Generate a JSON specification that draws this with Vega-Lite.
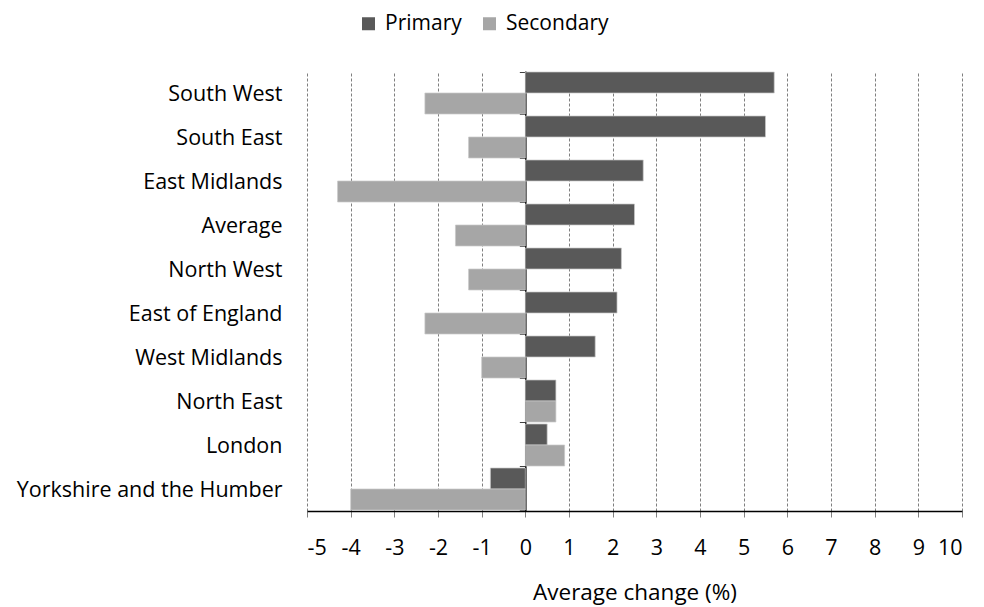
{
  "$schema": "https://vega.github.io/schema/vega-lite/v6.json",
  "width": 655,
  "height": 440,
  "autosize": {"type": "none"},
  "padding": {"left": 307, "top": 71, "right": 22, "bottom": 96},
  "background": "white",
  "config": {
    "view": {"stroke": null},
    "font": "Open Sans",
    "axis": {"labelFont": "Open Sans", "titleFont": "Open Sans", "labelColor": "#000000", "titleColor": "#000000"},
    "legend": {"labelFont": "Open Sans"}
  },
  "data": {
    "values": [
      {"region": "South West", "series": "Primary", "value": 5.7},
      {"region": "South West", "series": "Secondary", "value": -2.3},
      {"region": "South East", "series": "Primary", "value": 5.5},
      {"region": "South East", "series": "Secondary", "value": -1.3},
      {"region": "East Midlands", "series": "Primary", "value": 2.7},
      {"region": "East Midlands", "series": "Secondary", "value": -4.3},
      {"region": "Average", "series": "Primary", "value": 2.5},
      {"region": "Average", "series": "Secondary", "value": -1.6},
      {"region": "North West", "series": "Primary", "value": 2.2},
      {"region": "North West", "series": "Secondary", "value": -1.3},
      {"region": "East of England", "series": "Primary", "value": 2.1},
      {"region": "East of England", "series": "Secondary", "value": -2.3},
      {"region": "West Midlands", "series": "Primary", "value": 1.6},
      {"region": "West Midlands", "series": "Secondary", "value": -1.0},
      {"region": "North East", "series": "Primary", "value": 0.7},
      {"region": "North East", "series": "Secondary", "value": 0.7},
      {"region": "London", "series": "Primary", "value": 0.5},
      {"region": "London", "series": "Secondary", "value": 0.9},
      {"region": "Yorkshire and the Humber", "series": "Primary", "value": -0.8},
      {"region": "Yorkshire and the Humber", "series": "Secondary", "value": -4.0}
    ]
  },
  "resolve": {"axis": {"y": "independent", "x": "independent"}},
  "layer": [
    {
      "mark": {"type": "bar", "stroke": "#c8c8c8", "strokeWidth": 0.7},
      "encoding": {
        "y": {
          "field": "region", "type": "nominal", "sort": null,
          "scale": {"paddingInner": 0.045, "paddingOuter": 0.0225},
          "axis": {
            "title": null, "orient": "left", "domain": false, "ticks": false, "grid": false,
            "labelFontSize": 21.5, "labelPadding": 25, "labelLimit": 400, "labelOffset": 2, "labelColor": "#000000"
          }
        },
        "yOffset": {"field": "series", "type": "nominal", "sort": ["Primary", "Secondary"]},
        "x": {
          "field": "value", "type": "quantitative",
          "scale": {"domain": [-5, 10], "nice": false, "zero": false},
          "axis": {
            "title": "Average change (%)", "titleFontSize": 22.5, "titleFontWeight": "normal", "titlePadding": 23,
            "values": [-5, -4, -3, -2, -1, 0, 1, 2, 3, 4, 5, 6, 7, 8, 9, 10],
            "labelExpr": "'' + datum.value",
            "labelOverlap": false,
            "labelFontSize": 21.5, "labelPadding": 20,
            "domain": true, "domainColor": "#000000", "domainWidth": 1.3,
            "ticks": true, "tickColor": "#808080", "tickSize": 6,
            "grid": true, "gridColor": "#7f7f7f", "gridDash": [3, 2], "gridWidth": 1
          }
        },
        "color": {
          "field": "series", "type": "nominal",
          "scale": {"domain": ["Primary", "Secondary"], "range": ["#595959", "#a6a6a6"]},
          "legend": {
            "title": null, "orient": "none", "direction": "horizontal",
            "legendX": 51, "legendY": -58,
            "symbolType": "square", "symbolSize": 169, "symbolStrokeWidth": 0,
            "labelFontSize": 21, "labelOffset": 6, "columnPadding": 17
          }
        }
      }
    },
    {
      "mark": {"type": "bar", "opacity": 0},
      "encoding": {
        "y": {
          "field": "region", "type": "nominal", "sort": null,
          "axis": {
            "title": null, "orient": "left", "offset": -218.33, "labels": false,
            "domain": true, "domainColor": "#000000", "domainWidth": 1.5,
            "ticks": true, "tickBand": "extent", "tickSize": 6, "tickColor": "#404040", "tickWidth": 1,
            "grid": false
          }
        },
        "x": {"field": "value", "type": "quantitative", "axis": null}
      }
    }
  ]
}
